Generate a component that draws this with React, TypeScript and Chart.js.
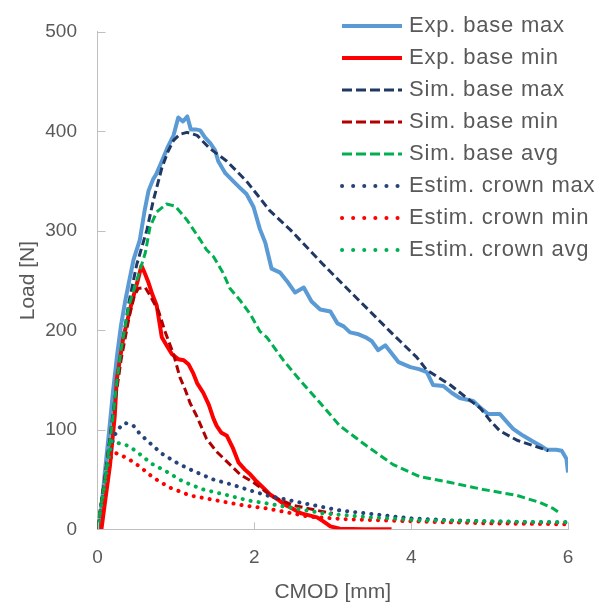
import React, { useEffect, useRef } from "react";
import { Chart, registerables } from "chart.js";

Chart.register(...registerables);

type Pt = [number, number];

const xTicks = [0, 2, 4, 6];
const yTicks = [0, 100, 200, 300, 400, 500];

const seriesNames = [
  "Exp. base max",
  "Exp. base min",
  "Sim. base max",
  "Sim. base min",
  "Sim. base avg",
  "Estim. crown max",
  "Estim. crown min",
  "Estim. crown avg",
];

const expBaseMax: Pt[] = [
  [0.02, 0], [0.06, 30], [0.1, 62], [0.15, 100], [0.2, 140], [0.25, 175], [0.3, 205], [0.35, 228],
  [0.4, 248], [0.46, 271], [0.54, 291], [0.6, 320], [0.65, 340], [0.71, 352], [0.75, 357], [0.82, 370],
  [0.9, 385], [0.97, 396], [1.03, 414], [1.09, 410], [1.145, 415], [1.19, 402], [1.25, 402], [1.31, 401],
  [1.37, 394], [1.44, 388], [1.5, 381], [1.54, 370], [1.63, 358], [1.73, 350], [1.82, 343], [1.9, 337],
  [1.99, 324], [2.07, 302], [2.14, 288], [2.22, 262], [2.33, 258], [2.43, 248], [2.52, 238], [2.63, 243],
  [2.73, 229], [2.84, 221], [2.97, 219], [3.06, 207], [3.14, 204], [3.22, 198], [3.33, 196], [3.42, 193],
  [3.5, 189], [3.58, 180], [3.67, 185], [3.76, 176], [3.84, 168], [3.99, 163], [4.1, 161], [4.2, 158],
  [4.28, 145], [4.41, 144], [4.52, 137], [4.62, 132], [4.79, 129], [4.9, 121], [4.98, 116], [5.13, 116],
  [5.22, 108], [5.3, 101], [5.43, 94], [5.56, 88], [5.65, 84], [5.73, 80], [5.85, 80], [5.92, 79],
  [5.98, 71], [6.0, 57],
];

const expBaseMin: Pt[] = [
  [0.05, 0], [0.1, 30], [0.16, 65], [0.22, 114], [0.245, 150], [0.33, 193], [0.44, 229], [0.52, 252],
  [0.56, 265], [0.6, 258], [0.65, 248], [0.7, 236], [0.755, 225], [0.82, 193], [0.88, 185], [0.95, 176],
  [1.03, 171], [1.1, 170], [1.16, 166], [1.22, 157], [1.27, 147], [1.35, 137], [1.42, 125], [1.48, 111],
  [1.52, 104], [1.58, 97], [1.65, 94], [1.73, 81], [1.8, 67], [1.88, 60], [1.95, 55], [2.03, 48],
  [2.11, 42], [2.2, 35], [2.3, 30], [2.38, 25], [2.46, 22], [2.6, 16], [2.7, 14], [2.8, 12],
  [2.88, 8], [2.97, 3], [3.09, 0.5], [3.4, 0], [3.75, 0],
];

const simBaseMax: Pt[] = [
  [0, 0], [0.1, 55], [0.2, 118], [0.3, 178], [0.4, 228], [0.5, 266], [0.63, 301], [0.71, 330],
  [0.82, 363], [0.9, 380], [0.97, 391], [1.05, 397], [1.14, 399], [1.27, 396], [1.43, 383], [1.65, 370],
  [1.9, 350], [2.03, 337], [2.2, 320], [2.46, 301], [2.88, 266], [3.31, 232], [3.73, 199], [3.86, 189],
  [4.07, 173], [4.2, 160], [4.5, 145], [4.71, 132], [4.88, 122], [5.01, 109], [5.13, 99], [5.35, 89.5],
  [5.56, 84], [5.75, 79],
];

const simBaseMin: Pt[] = [
  [0, 0], [0.1, 55], [0.2, 115], [0.3, 170], [0.4, 212], [0.47, 235], [0.52, 242], [0.61, 243],
  [0.67, 235], [0.78, 219], [0.86, 199], [0.97, 176], [1.05, 153], [1.12, 140], [1.18, 127], [1.27, 113],
  [1.39, 91], [1.52, 78], [1.65, 68], [1.82, 55], [1.99, 47], [2.16, 37], [2.2, 34], [2.5, 24],
  [2.8, 19], [3.0, 16],
];

const simBaseAvg: Pt[] = [
  [0, 0], [0.1, 52], [0.2, 115], [0.245, 147], [0.3, 180], [0.4, 225], [0.5, 250], [0.61, 278],
  [0.67, 304], [0.755, 319], [0.88, 327], [0.99, 325], [1.14, 311], [1.31, 291], [1.39, 281], [1.48, 274],
  [1.6, 258], [1.69, 242], [1.82, 230], [1.95, 216], [2.07, 199], [2.16, 193], [2.37, 170], [2.58, 150],
  [2.84, 127], [3.09, 104], [3.43, 84], [3.77, 65], [4.11, 53], [4.5, 47], [4.92, 40], [5.35, 34],
  [5.64, 27], [5.81, 21], [5.9, 16],
];

const estCrownMax: Pt[] = [
  [0, 0], [0.1, 50], [0.2, 92], [0.265, 101], [0.35, 107], [0.46, 104], [0.54, 96], [0.65, 88],
  [0.82, 76], [1.03, 66], [1.24, 58], [1.48, 50], [1.71, 45], [1.95, 39], [2.16, 34], [2.58, 27],
  [3.09, 19], [3.65, 14], [4.0, 11], [4.5, 9], [5.0, 8], [5.5, 7], [6.0, 7],
];

const estCrownMin: Pt[] = [
  [0, 0], [0.1, 48], [0.17, 72], [0.22, 77], [0.29, 75], [0.41, 70], [0.54, 63], [0.71, 52],
  [0.92, 42], [1.18, 34], [1.52, 29], [1.86, 24], [2.16, 21], [2.71, 12.5], [3.2, 10], [4.0, 8],
  [5.0, 6], [6.0, 5],
];

const estCrownAvg: Pt[] = [
  [0, 0], [0.1, 50], [0.18, 89], [0.29, 86], [0.39, 84], [0.5, 78], [0.69, 66], [0.88, 58],
  [1.09, 48], [1.35, 40], [1.67, 34], [1.92, 29], [2.16, 26], [2.88, 16], [3.48, 12], [4.11, 9],
  [5.0, 8], [6.0, 7],
];

const seriesData: Pt[][] = [
  expBaseMax, expBaseMin, simBaseMax, simBaseMin, simBaseAvg, estCrownMax, estCrownMin, estCrownAvg,
];

const styles = [
  { color: "#5B9BD5", width: 4, dash: [] as number[], legendDash: [] as number[], cap: "butt", order: 8 },
  { color: "#FF0000", width: 4, dash: [], legendDash: [], cap: "butt", order: 7 },
  { color: "#203864", width: 3, dash: [8, 4], legendDash: [10, 4], cap: "butt", order: 6 },
  { color: "#B00000", width: 3, dash: [8, 4], legendDash: [10, 4], cap: "butt", order: 5 },
  { color: "#00B050", width: 3, dash: [8, 4], legendDash: [10, 4], cap: "butt", order: 4 },
  { color: "#264478", width: 4, dash: [0.1, 8], legendDash: [0.1, 11], cap: "round", order: 3 },
  { color: "#FF0000", width: 4, dash: [0.1, 8], legendDash: [0.1, 11], cap: "round", order: 2 },
  { color: "#00B050", width: 4, dash: [0.1, 8], legendDash: [0.1, 11], cap: "round", order: 1 },
];

const FONT = "'Liberation Sans', Arial, sans-serif";
const TEXT = "#595959";
const AXIS = "#BFBFBF";

const innerTicks = {
  id: "innerTicks",
  afterDraw(chart: any) {
    const { ctx, chartArea, scales } = chart;
    ctx.save();
    ctx.strokeStyle = AXIS;
    ctx.lineWidth = 1;
    ctx.beginPath();
    for (const v of yTicks) {
      const y = Math.round(scales.y.getPixelForValue(v)) + 0.5;
      ctx.moveTo(chartArea.left, y);
      ctx.lineTo(chartArea.left + 8, y);
    }
    for (const v of xTicks) {
      const x = Math.round(scales.x.getPixelForValue(v)) + 0.5;
      ctx.moveTo(x, chartArea.bottom);
      ctx.lineTo(x, chartArea.bottom - 7);
    }
    ctx.stroke();
    ctx.restore();
  },
};

const customLegend = {
  id: "customLegend",
  afterDraw(chart: any) {
    const { ctx } = chart;
    ctx.save();
    ctx.font = `22px ${FONT}`;
    ctx.textBaseline = "middle";
    ctx.textAlign = "left";
    try {
      (ctx as any).letterSpacing = "0.8px";
    } catch (e) {}
    seriesNames.forEach((name, i) => {
      const s = styles[i];
      const y = 26 + 32 * i;
      ctx.beginPath();
      ctx.strokeStyle = s.color;
      ctx.lineWidth = s.width;
      ctx.lineCap = s.cap as CanvasLineCap;
      ctx.setLineDash(s.legendDash);
      ctx.moveTo(342, y);
      ctx.lineTo(402, y);
      ctx.stroke();
      ctx.setLineDash([]);
      ctx.fillStyle = TEXT;
      ctx.fillText(name, 409, y);
    });
    ctx.restore();
  },
};

export default function App() {
  const ref = useRef<HTMLCanvasElement | null>(null);

  useEffect(() => {
    if (!ref.current) return;
    const chart = new Chart(ref.current, {
      type: "line",
      data: {
        datasets: seriesNames.map((name, i) => ({
          label: name,
          data: seriesData[i].map(([x, y]) => ({ x, y })),
          borderColor: styles[i].color,
          backgroundColor: styles[i].color,
          borderWidth: styles[i].width,
          borderDash: styles[i].dash,
          borderCapStyle: styles[i].cap as CanvasLineCap,
          borderJoinStyle: "round" as CanvasLineJoin,
          pointRadius: 0,
          fill: false,
          tension: 0,
          order: styles[i].order,
        })),
      },
      options: {
        responsive: false,
        animation: false,
        layout: { padding: { top: 21, right: 30, left: 0, bottom: 0 } },
        plugins: {
          legend: { display: false },
          tooltip: { enabled: false },
        },
        scales: {
          x: {
            type: "linear",
            min: 0,
            max: 6,
            afterFit: (s: any) => {
              s.height = 73.7;
            },
            afterBuildTicks: (s: any) => {
              s.ticks = xTicks.map((v) => ({ value: v }));
            },
            ticks: {
              color: TEXT,
              font: { family: FONT, size: 19 },
              padding: 17,
            },
            grid: { drawOnChartArea: false, drawTicks: false },
            border: { color: AXIS, width: 1 },
            title: {
              display: true,
              text: "CMOD [mm]",
              color: TEXT,
              font: { family: FONT, size: 21, lineHeight: 1 },
              padding: { top: 0, bottom: 0 },
            },
          },
          y: {
            type: "linear",
            min: 0,
            max: 500,
            afterFit: (s: any) => {
              s.width = 97.5;
            },
            afterBuildTicks: (s: any) => {
              s.ticks = yTicks.map((v) => ({ value: v }));
            },
            ticks: {
              color: TEXT,
              font: { family: FONT, size: 19 },
              padding: 20.5,
            },
            grid: { drawOnChartArea: false, drawTicks: false },
            border: { color: AXIS, width: 1 },
            title: {
              display: true,
              text: "Load [N]",
              color: TEXT,
              font: { family: FONT, size: 21, lineHeight: 1 },
              padding: { top: 17.5, bottom: 0 },
            },
          },
        },
      },
      plugins: [innerTicks, customLegend],
    });
    return () => chart.destroy();
  }, []);

  return (
    <div style={{ position: "fixed", left: 0, top: 0, width: 598, height: 603, background: "#fff" }}>
      <canvas ref={ref} width={598} height={603} style={{ width: 598, height: 603, display: "block" }} />
    </div>
  );
}
